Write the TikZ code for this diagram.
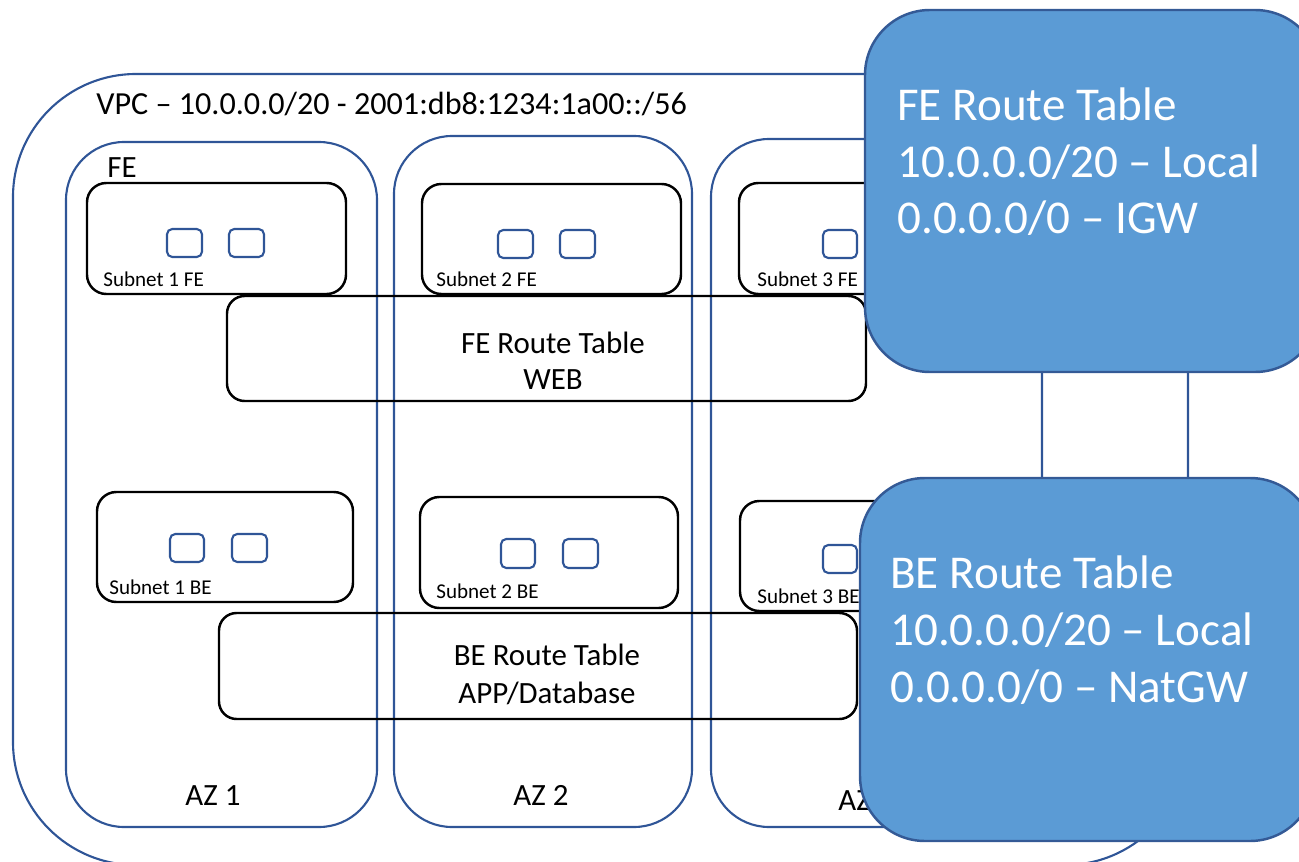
\documentclass[tikz,border=0pt]{standalone}
\usepackage{fontspec}
\setmainfont{Carlito}
\definecolor{azline}{RGB}{47,85,151}
\definecolor{rtfill}{RGB}{91,155,213}
\definecolor{rtline}{RGB}{52,90,150}

\tikzset{
  vpcbox/.style={draw=azline, line width=1.2pt, rounded corners=70pt},
  azbox/.style={draw=azline, line width=1.2pt, rounded corners=33pt},
  subnetbox/.style={draw=black, line width=1.4pt, rounded corners=11pt},
  instbox/.style={draw=azline, line width=1.2pt, rounded corners=3pt},
  tablebox/.style={draw=black, line width=1.4pt, rounded corners=10pt},
  routebox/.style={draw=rtline, fill=rtfill, line width=1.4pt, rounded corners=37pt},
  bigtxt/.style={font=\fontsize{18.3}{22}\selectfont, inner sep=0pt, anchor=base west},
  midtxt/.style={font=\fontsize{17.6}{21}\selectfont, inner sep=0pt, anchor=base},
  smalltxt/.style={font=\fontsize{12}{14}\selectfont, inner sep=0pt, anchor=base west},
  routetxt/.style={font=\fontsize{26.8}{32}\selectfont, text=white, inner sep=0pt, anchor=base west}
}

\begin{document}
\begin{tikzpicture}[x=0.02cm, y=-0.02cm]
    \clip (0,0) rectangle (1299,862);

    % VPC
    \draw[vpcbox] (13,74) rectangle (1188,865);
    \node[bigtxt] (vpclabel) at (96,114) {VPC – 10.0.0.0/20 - 2001:db8:1234:1a00::/56};

    % Availability zones
    \draw[azbox] (66,142) rectangle (377,827);
    \draw[azbox] (394,136) rectangle (692,827);
    \draw[azbox] (711,139) rectangle (1042,827);
    \node[midtxt, anchor=base west] (felabel) at (107,177) {FE};
    \node[midtxt] (az1label) at (213,805) {AZ 1};
    \node[midtxt] (az2label) at (541,805) {AZ 2};
    \node[midtxt] (az3label) at (866,810) {AZ 3};

    % FE subnets and their instances
    \draw[subnetbox] (87,183) rectangle (346,294);
    \draw[subnetbox] (422,184) rectangle (681,294);
    \draw[subnetbox] (739,183) rectangle (998,294);
    \draw[instbox] (167,229) rectangle (202,257);
    \draw[instbox] (229,229) rectangle (264,257);
    \draw[instbox] (498,230) rectangle (533,258);
    \draw[instbox] (560,230) rectangle (595,258);
    \draw[instbox] (823,230) rectangle (857,258);
    \draw[instbox] (885,230) rectangle (919,258);
    \node[smalltxt] (sub1fe) at (103,286) {Subnet 1 FE};
    \node[smalltxt] (sub2fe) at (436,286) {Subnet 2 FE};
    \node[smalltxt] (sub3fe) at (757,286) {Subnet 3 FE};

    % BE subnets and their instances
    \draw[subnetbox] (97,492) rectangle (353,602);
    \draw[subnetbox] (420,497) rectangle (678,608);
    \draw[subnetbox] (740,501) rectangle (998,611);
    \draw[instbox] (170,534) rectangle (204,562);
    \draw[instbox] (232,534) rectangle (267,562);
    \draw[instbox] (501,539) rectangle (535,568);
    \draw[instbox] (563,539) rectangle (598,568);
    \draw[instbox] (823,545) rectangle (857,573);
    \draw[instbox] (885,545) rectangle (919,573);
    \node[smalltxt] (sub1be) at (109,594) {Subnet 1 BE};
    \node[smalltxt] (sub2be) at (436,598) {Subnet 2 BE};
    \node[smalltxt] (sub3be) at (757,603) {Subnet 3 BE};

    % Route table associations
    \draw[tablebox] (227,296) rectangle (866,401);
    \node[midtxt] (fertname) at (553,353) {FE Route Table};
    \node[midtxt] (fertrole) at (553,389) {WEB};
    \draw[tablebox] (219,613) rectangle (857,719);
    \node[midtxt] (bertname) at (547,665) {BE Route Table};
    \node[midtxt] (bertrole) at (547,703) {APP/Database};

    % Route table callouts
    \draw[routebox] (865,10) rectangle (1320,372);
    \node[routetxt] (fert1) at (897,120) {FE Route Table};
    \node[routetxt] (fert2) at (897,177) {10.0.0.0/20 – Local};
    \node[routetxt] (fert3) at (897,233) {0.0.0.0/0 – IGW};
    \draw[routebox] (860,478) rectangle (1315,841);
    \node[routetxt] (bert1) at (890,588) {BE Route Table};
    \node[routetxt] (bert2) at (890,645) {10.0.0.0/20 – Local};
    \node[routetxt] (bert3) at (890,702) {0.0.0.0/0 – NatGW};

\end{tikzpicture}
\end{document}
